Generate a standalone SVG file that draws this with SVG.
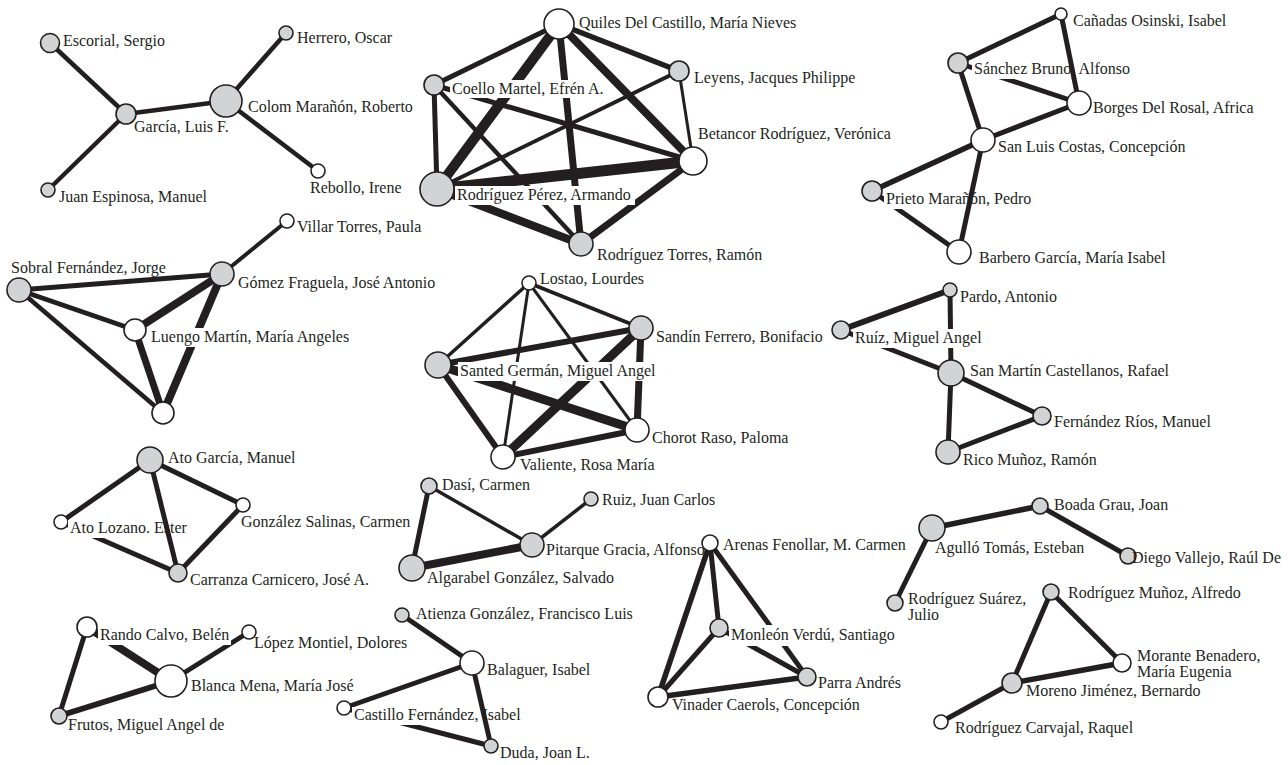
<svg xmlns="http://www.w3.org/2000/svg" width="1288" height="765" viewBox="0 0 1288 765">
<style>
.c line{stroke:#231f20;fill:none}
.g{fill:#d1d3d4;stroke:#231f20;stroke-width:1.6}
.w{fill:#fff;stroke:#231f20;stroke-width:1.6}
.bg{fill:#fff}
text{font-family:"Liberation Serif","Times New Roman",serif;font-size:16px;fill:#231f20}
</style>
<rect width="1288" height="765" fill="#fff"/>
<g id="connectors" class="c">
<line x1="50" y1="43" x2="126" y2="114" stroke-width="4.5"/>
<line x1="48" y1="190" x2="126" y2="114" stroke-width="4.5"/>
<line x1="126" y1="114" x2="226" y2="101" stroke-width="4.5"/>
<line x1="226" y1="101" x2="286" y2="33" stroke-width="4.5"/>
<line x1="226" y1="101" x2="318" y2="171" stroke-width="4.5"/>

<line x1="559" y1="24" x2="434" y2="85" stroke-width="5"/>
<line x1="559" y1="24" x2="679" y2="71" stroke-width="5.5"/>
<line x1="559" y1="24" x2="437" y2="189" stroke-width="10"/>
<line x1="559" y1="24" x2="581" y2="244" stroke-width="7"/>
<line x1="559" y1="24" x2="693" y2="161" stroke-width="8"/>
<line x1="679" y1="71" x2="693" y2="161" stroke-width="3"/>
<line x1="679" y1="71" x2="437" y2="189" stroke-width="4"/>
<line x1="434" y1="85" x2="437" y2="189" stroke-width="5"/>
<line x1="434" y1="85" x2="693" y2="161" stroke-width="5"/>
<line x1="434" y1="85" x2="581" y2="244" stroke-width="4.5"/>
<line x1="437" y1="189" x2="693" y2="161" stroke-width="11"/>
<line x1="437" y1="189" x2="581" y2="244" stroke-width="8"/>
<line x1="693" y1="161" x2="581" y2="244" stroke-width="7"/>

<line x1="958" y1="63" x2="1061" y2="14" stroke-width="5"/>
<line x1="1061" y1="14" x2="1079" y2="103" stroke-width="5"/>
<line x1="958" y1="63" x2="1079" y2="103" stroke-width="5"/>
<line x1="958" y1="63" x2="983" y2="140" stroke-width="5"/>
<line x1="1079" y1="103" x2="983" y2="140" stroke-width="5"/>
<line x1="983" y1="140" x2="872" y2="191" stroke-width="5.5"/>
<line x1="983" y1="140" x2="959" y2="252" stroke-width="5"/>
<line x1="872" y1="191" x2="959" y2="252" stroke-width="5"/>

<line x1="222" y1="274" x2="287" y2="221" stroke-width="4"/>
<line x1="19" y1="290" x2="222" y2="274" stroke-width="5"/>
<line x1="19" y1="290" x2="135" y2="330" stroke-width="5"/>
<line x1="19" y1="290" x2="163" y2="413" stroke-width="4.5"/>
<line x1="222" y1="274" x2="135" y2="330" stroke-width="8"/>
<line x1="222" y1="274" x2="163" y2="413" stroke-width="8"/>
<line x1="135" y1="330" x2="163" y2="413" stroke-width="7"/>

<line x1="529" y1="283" x2="438" y2="365" stroke-width="3.5"/>
<line x1="529" y1="283" x2="641" y2="328" stroke-width="4"/>
<line x1="529" y1="283" x2="503" y2="457" stroke-width="3"/>
<line x1="529" y1="283" x2="637" y2="430" stroke-width="3"/>
<line x1="438" y1="365" x2="641" y2="328" stroke-width="6"/>
<line x1="438" y1="365" x2="637" y2="430" stroke-width="9"/>
<line x1="438" y1="365" x2="503" y2="457" stroke-width="6"/>
<line x1="641" y1="328" x2="503" y2="457" stroke-width="9"/>
<line x1="641" y1="328" x2="637" y2="430" stroke-width="7"/>
<line x1="503" y1="457" x2="637" y2="430" stroke-width="6"/>

<line x1="841" y1="330" x2="950" y2="290" stroke-width="6"/>
<line x1="950" y1="290" x2="951" y2="373" stroke-width="5"/>
<line x1="841" y1="330" x2="951" y2="373" stroke-width="5"/>
<line x1="951" y1="373" x2="1042" y2="416" stroke-width="5"/>
<line x1="951" y1="373" x2="948" y2="452" stroke-width="5"/>
<line x1="948" y1="452" x2="1042" y2="416" stroke-width="5"/>

<line x1="150" y1="460" x2="61" y2="522" stroke-width="5"/>
<line x1="150" y1="460" x2="178" y2="573" stroke-width="5"/>
<line x1="150" y1="460" x2="243" y2="505" stroke-width="5"/>
<line x1="61" y1="522" x2="178" y2="573" stroke-width="5"/>
<line x1="243" y1="505" x2="178" y2="573" stroke-width="5"/>

<line x1="429" y1="486" x2="412" y2="568" stroke-width="5"/>
<line x1="429" y1="486" x2="532" y2="545" stroke-width="3.5"/>
<line x1="532" y1="545" x2="591" y2="499" stroke-width="3.5"/>
<line x1="412" y1="568" x2="532" y2="545" stroke-width="8"/>

<line x1="710" y1="543" x2="658" y2="697" stroke-width="5.5"/>
<line x1="710" y1="543" x2="719" y2="628" stroke-width="5"/>
<line x1="710" y1="543" x2="807" y2="677" stroke-width="5"/>
<line x1="719" y1="628" x2="658" y2="697" stroke-width="5"/>
<line x1="719" y1="628" x2="807" y2="677" stroke-width="5"/>
<line x1="658" y1="697" x2="807" y2="677" stroke-width="5.5"/>

<line x1="932" y1="528" x2="1040" y2="506" stroke-width="5.5"/>
<line x1="1040" y1="506" x2="1128" y2="556" stroke-width="5"/>
<line x1="932" y1="528" x2="895" y2="603" stroke-width="5"/>

<line x1="1051" y1="592" x2="1122" y2="663" stroke-width="5"/>
<line x1="1051" y1="592" x2="1012" y2="683" stroke-width="5"/>
<line x1="1012" y1="683" x2="1122" y2="663" stroke-width="5.5"/>
<line x1="1012" y1="683" x2="941" y2="722" stroke-width="5"/>

<line x1="87" y1="627" x2="59" y2="716" stroke-width="5"/>
<line x1="87" y1="627" x2="171" y2="681" stroke-width="8"/>
<line x1="171" y1="681" x2="249" y2="632" stroke-width="5"/>
<line x1="171" y1="681" x2="59" y2="716" stroke-width="6"/>

<line x1="402" y1="615" x2="472" y2="663" stroke-width="5"/>
<line x1="472" y1="663" x2="344" y2="708" stroke-width="5"/>
<line x1="472" y1="663" x2="491" y2="746" stroke-width="5"/>
<line x1="344" y1="708" x2="491" y2="746" stroke-width="5"/>
</g>

<g id="escorial"><circle class="g" cx="50" cy="43" r="9.5"/><text x="63" y="46">Escorial, Sergio</text></g>
<g id="herrero"><circle class="g" cx="286" cy="33" r="7"/><text x="297" y="43">Herrero, Oscar</text></g>
<g id="garcia"><circle class="g" cx="126" cy="114" r="10"/><text x="134" y="132">García, Luis F.</text></g>
<g id="colom"><circle class="g" cx="226" cy="101" r="16"/><text x="248" y="112">Colom Marañón, Roberto</text></g>
<g id="juan-espinosa"><circle class="g" cx="48" cy="190" r="7"/><text x="59" y="202">Juan Espinosa, Manuel</text></g>
<g id="rebollo"><circle class="w" cx="318" cy="171" r="7"/><text x="310" y="193">Rebollo, Irene</text></g>

<g id="quiles"><circle class="w" cx="559" cy="24" r="15"/><text x="579" y="28">Quiles Del Castillo, María Nieves</text></g>
<g id="leyens"><circle class="g" cx="679" cy="71" r="10"/><text x="694" y="83">Leyens, Jacques Philippe</text></g>
<g id="coello"><circle class="g" cx="434" cy="85" r="10"/><rect class="bg" x="450" y="80" width="156" height="18"/><text x="452" y="94">Coello Martel, Efrén A.</text></g>
<g id="betancor"><circle class="w" cx="693" cy="161" r="14"/><text x="698" y="139">Betancor Rodríguez, Verónica</text></g>
<g id="rodriguez-perez"><circle class="g" cx="437" cy="189" r="17"/><rect class="bg" x="455" y="186" width="180" height="19"/><text x="457" y="200">Rodríguez Pérez, Armando</text></g>
<g id="rodriguez-torres"><circle class="g" cx="581" cy="244" r="12"/><text x="597" y="260">Rodríguez Torres, Ramón</text></g>

<g id="canadas"><circle class="w" cx="1061" cy="14" r="6"/><text x="1073" y="26">Cañadas Osinski, Isabel</text></g>
<g id="sanchez"><circle class="g" cx="958" cy="63" r="10"/><rect class="bg" x="972" y="61" width="94" height="18"/><text x="974" y="74">Sánchez Bruno, Alfonso</text></g>
<g id="borges"><circle class="w" cx="1079" cy="103" r="12"/><text x="1093" y="113">Borges Del Rosal, Africa</text></g>
<g id="san-luis"><circle class="w" cx="983" cy="140" r="12"/><text x="998" y="152">San Luis Costas, Concepción</text></g>
<g id="prieto"><circle class="g" cx="872" cy="191" r="10"/><rect class="bg" x="884" y="191" width="78" height="18"/><text x="886" y="204">Prieto Marañón, Pedro</text></g>
<g id="barbero"><circle class="w" cx="959" cy="252" r="12"/><text x="979" y="263">Barbero García, María Isabel</text></g>

<g id="villar"><circle class="w" cx="287" cy="221" r="7"/><text x="297" y="232">Villar Torres, Paula</text></g>
<g id="sobral"><circle class="g" cx="19" cy="290" r="12"/><text x="11" y="273">Sobral Fernández, Jorge</text></g>
<g id="gomez"><circle class="g" cx="222" cy="274" r="12"/><text x="238" y="288">Gómez Fraguela, José Antonio</text></g>
<g id="luengo"><circle class="w" cx="135" cy="330" r="11"/><rect class="bg" x="149" y="328" width="202" height="19"/><text x="151" y="342">Luengo Martín, María Angeles</text></g>
<g id="unnamed"><circle class="w" cx="163" cy="413" r="11"/></g>

<g id="lostao"><circle class="w" cx="529" cy="283" r="7"/><text x="540" y="284">Lostao, Lourdes</text></g>
<g id="sandin"><circle class="g" cx="641" cy="328" r="12"/><text x="656" y="342">Sandín Ferrero, Bonifacio</text></g>
<g id="santed"><circle class="g" cx="438" cy="365" r="13"/><rect class="bg" x="458" y="362" width="199" height="19"/><text x="460" y="376">Santed Germán, Miguel Angel</text></g>
<g id="chorot"><circle class="w" cx="637" cy="430" r="12"/><text x="652" y="443">Chorot Raso, Paloma</text></g>
<g id="valiente"><circle class="w" cx="503" cy="457" r="12"/><text x="520" y="470">Valiente, Rosa María</text></g>

<g id="pardo"><circle class="g" cx="950" cy="290" r="7"/><text x="960" y="302">Pardo, Antonio</text></g>
<g id="ruiz-miguel"><circle class="g" cx="841" cy="330" r="9"/><rect class="bg" x="853" y="329" width="132" height="19"/><text x="855" y="343">Ruíz, Miguel Angel</text></g>
<g id="san-martin"><circle class="g" cx="951" cy="373" r="13"/><text x="970" y="376">San Martín Castellanos, Rafael</text></g>
<g id="fernandez-rios"><circle class="g" cx="1042" cy="416" r="9"/><text x="1054" y="427">Fernández Ríos, Manuel</text></g>
<g id="rico"><circle class="g" cx="948" cy="452" r="12"/><text x="963" y="465">Rico Muñoz, Ramón</text></g>

<g id="ato-garcia"><circle class="g" cx="150" cy="460" r="13"/><text x="168" y="463">Ato García, Manuel</text></g>
<g id="ato-lozano"><circle class="w" cx="61" cy="522" r="7"/><rect class="bg" x="68" y="520" width="92" height="18"/><text x="70" y="533">Ato Lozano. Ester</text></g>
<g id="gonzalez-salinas"><circle class="w" cx="243" cy="505" r="7"/><text x="241" y="527">González Salinas, Carmen</text></g>
<g id="carranza"><circle class="g" cx="178" cy="573" r="9"/><text x="190" y="585">Carranza Carnicero, José A.</text></g>

<g id="dasi"><circle class="g" cx="429" cy="486" r="8"/><text x="442" y="490">Dasí, Carmen</text></g>
<g id="ruiz-juan"><circle class="g" cx="591" cy="499" r="7"/><text x="602" y="505">Ruiz, Juan Carlos</text></g>
<g id="pitarque"><circle class="g" cx="532" cy="545" r="12"/><text x="546" y="555">Pitarque Gracia, Alfonso</text></g>
<g id="algarabel"><circle class="g" cx="412" cy="568" r="13"/><text x="427" y="583">Algarabel González, Salvado</text></g>

<g id="arenas"><circle class="w" cx="710" cy="543" r="8"/><text x="723" y="550">Arenas Fenollar, M. Carmen</text></g>
<g id="monleon"><circle class="g" cx="719" cy="628" r="9"/><rect class="bg" x="729" y="625" width="170" height="21"/><text x="731" y="640">Monleón Verdú, Santiago</text></g>
<g id="parra"><circle class="g" cx="807" cy="677" r="9"/><text x="818" y="688">Parra Andrés</text></g>
<g id="vinader"><circle class="w" cx="658" cy="697" r="10"/><text x="672" y="710">Vinader Caerols, Concepción</text></g>

<g id="agullo"><circle class="g" cx="932" cy="528" r="13"/><text x="935" y="553">Agulló Tomás, Esteban</text></g>
<g id="boada"><circle class="g" cx="1040" cy="506" r="8"/><text x="1054" y="510">Boada Grau, Joan</text></g>
<g id="diego"><circle class="g" cx="1128" cy="556" r="8"/><text x="1132" y="563">Diego Vallejo, Raúl De</text></g>
<g id="rodriguez-suarez"><circle class="g" cx="895" cy="603" r="8"/><text x="908" y="604">Rodríguez Suárez,</text><text x="908" y="620">Julio</text></g>

<g id="rodriguez-munoz"><circle class="g" cx="1051" cy="592" r="8"/><text x="1068" y="598">Rodríguez Muñoz, Alfredo</text></g>
<g id="morante"><circle class="w" cx="1122" cy="663" r="9"/><text x="1137" y="661">Morante Benadero,</text><text x="1137" y="677">María Eugenia</text></g>
<g id="moreno"><circle class="g" cx="1012" cy="683" r="10"/><text x="1026" y="696">Moreno Jiménez, Bernardo</text></g>
<g id="rodriguez-carvajal"><circle class="w" cx="941" cy="722" r="7"/><text x="955" y="733">Rodríguez Carvajal, Raquel</text></g>

<g id="rando"><circle class="w" cx="87" cy="627" r="10"/><rect class="bg" x="98" y="626" width="133" height="19"/><text x="100" y="640">Rando Calvo, Belén</text></g>
<g id="lopez"><circle class="w" cx="249" cy="632" r="7"/><text x="254" y="648">López Montiel, Dolores</text></g>
<g id="blanca"><circle class="w" cx="171" cy="681" r="16"/><text x="191" y="691">Blanca Mena, María José</text></g>
<g id="frutos"><circle class="g" cx="59" cy="716" r="8"/><text x="68" y="730">Frutos, Miguel Angel de</text></g>

<g id="atienza"><circle class="g" cx="402" cy="615" r="7"/><text x="416" y="619">Atienza González, Francisco Luis</text></g>
<g id="balaguer"><circle class="w" cx="472" cy="663" r="12"/><text x="487" y="675">Balaguer, Isabel</text></g>
<g id="castillo"><circle class="w" cx="344" cy="708" r="7"/><rect class="bg" x="352" y="707" width="122" height="18"/><text x="354" y="720">Castillo Fernández, Isabel</text></g>
<g id="duda"><circle class="g" cx="491" cy="746" r="7"/><text x="500" y="758">Duda, Joan L.</text></g>
</svg>
